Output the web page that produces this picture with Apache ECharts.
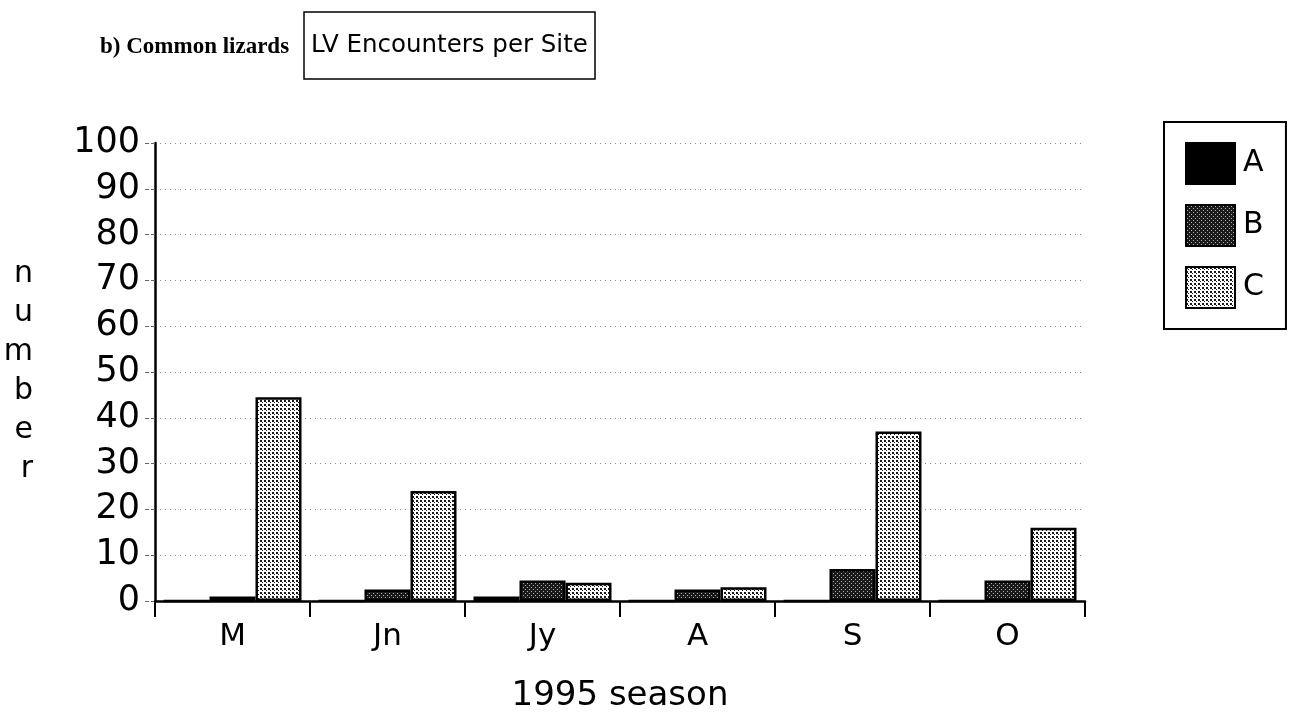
<!DOCTYPE html>
<html>
<head>
<meta charset="utf-8">
<title>LV Encounters per Site</title>
<script src="https://cdn.jsdelivr.net/npm/echarts@6/dist/echarts.min.js"></script>
<style>
    html, body { margin: 0; padding: 0; background: #fff; }
    #chart { width: 1298px; height: 720px; }
</style>
</head>
<body>
<div id="chart"></div>
<script>
// months of the 1995 season
var months = ['M', 'Jn', 'Jy', 'A', 'S', 'O'];
// sites
var siteA = [0, 0, 1, 0, 0, 0];
var siteB = [1, 2.5, 4.5, 2.5, 7, 4.5];
var siteC = [44.5, 24, 4, 3, 37, 16];
var yTicks = [0, 10, 20, 30, 40, 50, 60, 70, 80, 90, 100];

// dot patterns like the old print
function makePattern(bg, fg, dots) {
    var c = document.createElement('canvas');
    c.width = 4; c.height = 4;
    var ctx = c.getContext('2d');
    ctx.fillStyle = bg;
    ctx.fillRect(0, 0, 4, 4);
    ctx.fillStyle = fg;
    dots.forEach(function (d) { ctx.fillRect(d[0], d[1], d[2], d[2]); });
    return { image: c, repeat: 'repeat' };
}
var patB = makePattern('#1a1a1a', '#b0b0b0', [[1, 1, 1], [3, 3, 1]]);
var patC = makePattern('#ffffff', '#1a1a1a', [[0, 0, 2], [2, 2, 1]]);

var sans = 'DejaVu Sans';
var chart = echarts.init(document.getElementById('chart'));

function barSeries(name, data, fill) {
    return {
        name: name,
        type: 'bar',
        data: data,
        barWidth: 46,
        barGap: '0%',
        itemStyle: { color: fill, borderColor: '#000', borderWidth: 2.5 }
    };
}

var option = {
    animation: false,
    backgroundColor: '#fff',
    title: [{
        text: 'b) Common lizards',
        left: 95, top: 31,
        textStyle: { fontFamily: 'Liberation Serif', fontWeight: 'bold', fontSize: 23, color: '#000' }
    }, {
        text: 'LV Encounters per Site',
        left: 304, top: 12,
        padding: [21, 7, 21, 7],
        borderColor: '#000', borderWidth: 1.5,
        textStyle: { fontFamily: sans, fontWeight: 'normal', fontSize: 24.5, color: '#000' }
    }],
    legend: {
        orient: 'vertical',
        left: 1164, top: 122,
        padding: [20, 22, 20, 21],
        borderColor: '#000', borderWidth: 2,
        itemWidth: 49, itemHeight: 41, itemGap: 19,
        icon: 'rect',
        textStyle: { fontFamily: sans, fontSize: 30, color: '#000', padding: [0, 0, 0, 3] }
    },
    grid: { left: 155, right: 213, top: 143, bottom: 119 },
    xAxis: {
        type: 'category',
        data: months,
        name: '1995 season',
        nameLocation: 'middle',
        nameGap: 78,
        nameTextStyle: { fontFamily: sans, fontSize: 34, color: '#000' },
        axisLine: { lineStyle: { color: '#000', width: 2.5 } },
        axisTick: { show: true, length: 16, lineStyle: { color: '#000', width: 2 } },
        axisLabel: { fontFamily: sans, fontSize: 31, color: '#000', margin: 20 }
    },
    yAxis: {
        type: 'value',
        min: 0, max: 100, interval: 10,
        name: 'n\nu\nm\nb\ne\nr',
        nameLocation: 'middle',
        nameRotate: 0,
        nameGap: 122,
        nameTextStyle: { fontFamily: sans, fontSize: 30, color: '#000', lineHeight: 39 },
        axisLine: { show: true, lineStyle: { color: '#000', width: 2.5 } },
        axisTick: { show: true, length: 12, lineStyle: { color: '#666', width: 1, type: 'dashed' } },
        axisLabel: {
            fontFamily: sans, fontSize: 35, color: '#000', margin: 15,
            formatter: function (v) { return yTicks.indexOf(v) >= 0 ? String(v) : ''; }
        },
        splitLine: { show: true, lineStyle: { color: '#888', width: 1, type: [1, 4] } }
    },
    series: [
        barSeries('A', siteA, '#000'),
        barSeries('B', siteB, patB),
        barSeries('C', siteC, patC)
    ]
};
chart.setOption(option);
</script>
</body>
</html>
